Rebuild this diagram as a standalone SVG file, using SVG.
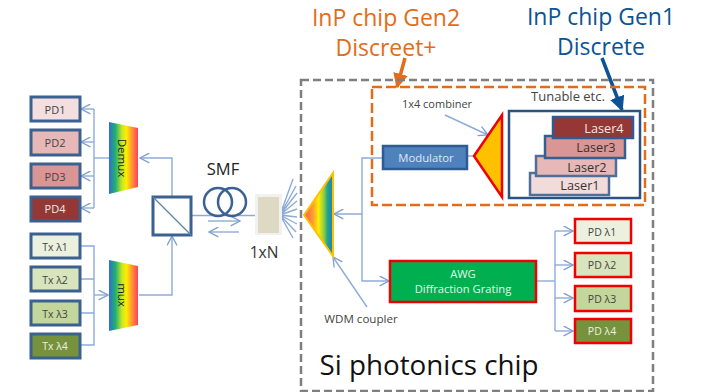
<svg xmlns="http://www.w3.org/2000/svg" width="702" height="392" viewBox="0 0 702 392">
<defs>
<linearGradient id="rbH" x1="0" x2="1" y1="0" y2="0"><stop offset="0" stop-color="#2f6fd0"/><stop offset=".22" stop-color="#20b070"/><stop offset=".45" stop-color="#c8e820"/><stop offset=".6" stop-color="#ffee00"/><stop offset=".78" stop-color="#ff9a30"/><stop offset="1" stop-color="#ff3f60"/></linearGradient>
<linearGradient id="rbW" x1="0" x2="1" y1="0" y2="0"><stop offset="0" stop-color="#ff5a60"/><stop offset=".3" stop-color="#ff9a30"/><stop offset=".5" stop-color="#ffee00"/><stop offset=".68" stop-color="#90d040"/><stop offset=".82" stop-color="#20a090"/><stop offset="1" stop-color="#1f7fc0"/></linearGradient>
<marker id="a" viewBox="0 0 10 10" refX="9.5" refY="5" markerWidth="11" markerHeight="11" markerUnits="userSpaceOnUse" orient="auto"><path d="M1 0.5L9.5 5L1 9.5" fill="none" stroke="#7f9fd0" stroke-width="1.2"/></marker>
<marker id="or" viewBox="0 0 10 10" refX="9" refY="5" markerWidth="15" markerHeight="15" markerUnits="userSpaceOnUse" orient="auto"><path d="M0 0L10 5L0 10Z" fill="#e36c1b"/></marker>
<marker id="bl" viewBox="0 0 10 10" refX="9" refY="5" markerWidth="15" markerHeight="15" markerUnits="userSpaceOnUse" orient="auto"><path d="M0 0L10 5L0 10Z" fill="#0b5394"/></marker>
</defs>
<style>
text{font-family:"Open Sans","Liberation Sans",sans-serif;text-anchor:middle}
.box{stroke:#3a6190;stroke-width:3}
.red{stroke:#f00000;stroke-width:2.5}
.c{fill:none;stroke:#8eabd8;stroke-width:1.4}
.t{font-size:11px;fill:#444}
.w{font-size:11px;fill:#f2e8e8}
.l{font-size:12.700px;fill:#333}
.s{font-size:10.500px;fill:#444}
.h{font-size:23px}
</style>
<rect width="702" height="392" fill="#fff"/>
<g id="connectors">
<path class="c" d="M94 109H81" marker-end="url(#a)"/>
<path class="c" d="M94 109V208"/>
<path class="c" d="M94 142H81" marker-end="url(#a)"/>
<path class="c" d="M94 176H81" marker-end="url(#a)"/>
<path class="c" d="M94 208H81" marker-end="url(#a)"/>
<path class="c" d="M94 158H109"/>
<path class="c" d="M172 196V158H140" marker-end="url(#a)"/>
<path class="c" d="M81 246H94V345H81M81 279H94M81 313H94"/>
<path class="c" d="M94 295H108" marker-end="url(#a)"/>
<path class="c" d="M139 295H172V236" marker-end="url(#a)"/>
<path class="c" d="M191 215.500H256"/>
<path class="c" d="M208 221H240" marker-end="url(#a)"/>
<path class="c" d="M239 232H209" marker-end="url(#a)"/>
<path class="c" d="M280 215L293 179M280 215L296 186M280 215L297 193M280 215L297 201M280 215L297 209M280 215L297 217M280 215L297 224M280 215L296 232M280 215L293 238"/>
<path class="c" d="M382 158H362V214H334" marker-end="url(#a)"/>
<path class="c" d="M362 214V281H389" marker-end="url(#a)"/>
<path class="c" d="M536 281H555"/>
<path class="c" d="M555 231V331"/>
<path class="c" d="M555 231H573" marker-end="url(#a)"/>
<path class="c" d="M555 265H573" marker-end="url(#a)"/>
<path class="c" d="M555 298H573" marker-end="url(#a)"/>
<path class="c" d="M555 331H573" marker-end="url(#a)"/>
<path class="c" d="M367 307L333 257" marker-end="url(#a)"/>
<path class="c" d="M445 115L488 135" marker-end="url(#a)"/>
<path class="c" d="M474 156H467"/>
<path class="c" d="M552 127H512" marker-end="url(#a)"/>
<path class="c" d="M544 145H512" marker-end="url(#a)"/>
<path class="c" d="M535 165H512" marker-end="url(#a)"/>
<path class="c" d="M530 184H512" marker-end="url(#a)"/>
<path d="M405 58L397 87" fill="none" stroke="#e36c1b" stroke-width="3.500" marker-end="url(#or)"/>
<path d="M602 58L622 110" fill="none" stroke="#0b5394" stroke-width="3.500" marker-end="url(#bl)"/>
</g>
<g id="chip-boundary"><rect x="301" y="80" width="352" height="311" fill="none" stroke="#7f7f7f" stroke-width="2.500" stroke-dasharray="8 4"/></g>
<g id="gen2-boundary"><rect x="372" y="87" width="273" height="118" fill="none" stroke="#e36c1b" stroke-width="2.500" stroke-dasharray="10 4"/></g>
<g id="pd1"><rect class="box" x="31" y="97" width="49" height="24" fill="#f3dfdf"/><text class="t" x="55" y="114">PD1</text></g>
<g id="pd2"><rect class="box" x="31" y="130" width="49" height="25" fill="#e6b8b7"/><text class="t" x="55" y="147">PD2</text></g>
<g id="pd3"><rect class="box" x="31" y="164" width="49" height="24" fill="#d99694"/><text class="t" x="55" y="181">PD3</text></g>
<g id="pd4"><rect class="box" x="31" y="197" width="49" height="24" fill="#953735"/><text class="w" x="55" y="213">PD4</text></g>
<g id="tx1"><rect class="box" x="31" y="234" width="49" height="24" fill="#ebf1de"/><text class="s" x="55" y="251">Tx λ1</text></g>
<g id="tx2"><rect class="box" x="31" y="267" width="49" height="24" fill="#d7e4bc"/><text class="s" x="55" y="284">Tx λ2</text></g>
<g id="tx3"><rect class="box" x="31" y="301" width="49" height="24" fill="#c3d69b"/><text class="s" x="55" y="318">Tx λ3</text></g>
<g id="tx4"><rect class="box" x="31" y="334" width="49" height="24" fill="#76923c"/><text class="s" x="55" y="350" style="fill:#f0f0e0">Tx λ4</text></g>
<g id="demux"><path d="M109 122L138 128V187L109 194Z" fill="url(#rbH)"/><text x="0" y="0" font-size="11.500" fill="#222" transform="translate(118 158) rotate(90)">Demux</text></g>
<g id="mux"><path d="M109 260L138 266V325L109 331Z" fill="url(#rbH)"/><text x="0" y="0" font-size="11.500" fill="#222" transform="translate(118 295) rotate(90)">mux</text></g>
<g id="splitter"><rect x="153" y="197" width="38" height="38" fill="#fff" stroke="#3a6190" stroke-width="3"/><path d="M153 197L191 235" stroke="#5f83b0" stroke-width="1.200"/></g>
<g id="smf"><circle cx="218" cy="202" r="14" fill="none" stroke="#3a6190" stroke-width="2.500"/><circle cx="232" cy="202" r="14" fill="none" stroke="#3a6190" stroke-width="2.500"/><text x="223" y="175" font-size="16.500" fill="#222">SMF</text></g>
<g id="splitter-1xn"><rect x="255" y="194" width="27" height="41" fill="#f1f1f1"/><rect x="258" y="197" width="21" height="36" fill="#ddd9c3"/><text x="264" y="258" font-size="15.500" fill="#333">1xN</text></g>
<g id="wdm-coupler"><path d="M304 215L333 173V256Z" fill="url(#rbW)" stroke="#ffc000" stroke-width="2"/><text x="361" y="323" font-size="11.600" fill="#444">WDM coupler</text></g>
<g id="modulator"><rect x="383" y="146" width="84" height="23" fill="#4f81bd" stroke="#2f5a94" stroke-width="2.500"/><text x="426" y="162" font-size="11.300" fill="#dfe8f4">Modulator</text></g>
<g id="combiner"><path d="M474 156L502 115V197Z" fill="#ffc000" stroke="#f00000" stroke-width="2.500"/><text x="437" y="108" font-size="11" fill="#444">1x4 combiner</text></g>
<g id="tunable"><rect x="509" y="111" width="131" height="87" fill="#fff" stroke="#2c5380" stroke-width="2.500"/><text x="568" y="101" font-size="13" fill="#444">Tunable etc.</text></g>
<g id="laser1"><rect x="530" y="173" width="79" height="22" fill="#f2dcdb" stroke="#4f6f9a" stroke-width="2.500"/><text class="l" x="580" y="190">Laser1</text></g>
<g id="laser2"><rect x="536" y="156" width="80" height="20" fill="#e6b8b7" stroke="#4f6f9a" stroke-width="2.500"/><text class="l" x="587" y="172">Laser2</text></g>
<g id="laser3"><rect x="545" y="136" width="80" height="22" fill="#d99694" stroke="#34608f" stroke-width="2.500"/><text class="l" x="596" y="152">Laser3</text></g>
<g id="laser4"><rect x="553" y="117" width="80" height="21" fill="#953735" stroke="#2f5a94" stroke-width="2.500"/><text x="604" y="133" font-size="12.700" fill="#f2e8e8">Laser4</text></g>
<g id="awg"><rect x="390" y="261" width="146" height="41" fill="#00b050" stroke="#f00000" stroke-width="2.500"/><text x="463" y="278" font-size="11.200" fill="#e4f6ea">AWG</text><text x="463" y="293" font-size="11.200" fill="#e4f6ea">Diffraction Grating</text></g>
<g id="pd-l1"><rect class="red" x="575" y="219" width="56" height="24" fill="#ebf1de"/><text class="s" x="602" y="236">PD λ1</text></g>
<g id="pd-l2"><rect class="red" x="575" y="253" width="56" height="24" fill="#d7e4bc"/><text class="s" x="602" y="269">PD λ2</text></g>
<g id="pd-l3"><rect class="red" x="575" y="286" width="56" height="25" fill="#c3d69b"/><text class="s" x="602" y="303">PD λ3</text></g>
<g id="pd-l4"><rect class="red" x="575" y="319" width="56" height="24" fill="#76923c"/><text class="s" x="602" y="335" style="fill:#f0f0e0">PD λ4</text></g>
<g id="labels">
<text class="h" x="386" y="26" fill="#e36c1b">InP chip Gen2</text>
<text class="h" x="386" y="56" fill="#e36c1b">Discreet+</text>
<text class="h" x="601" y="25" fill="#0b5394">InP chip Gen1</text>
<text class="h" x="601" y="55" fill="#0b5394">Discrete</text>
<text x="429" y="375" font-size="27.800" fill="#111">Si photonics chip</text>
</g>
</svg>
